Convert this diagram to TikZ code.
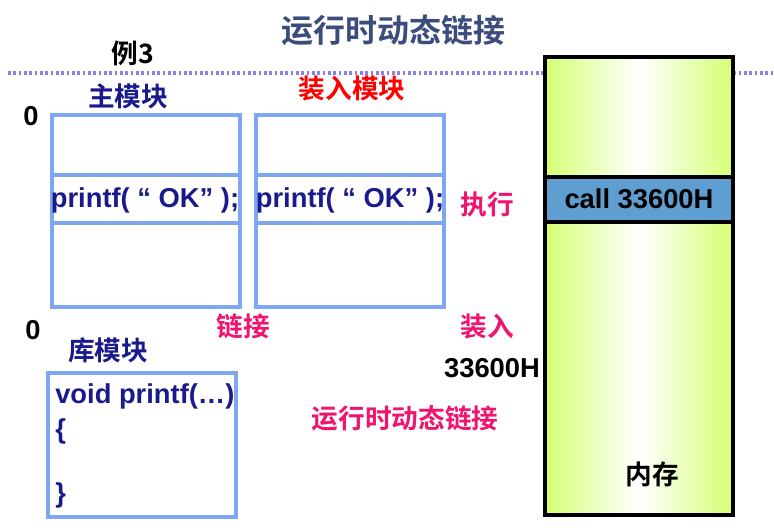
\documentclass[tikz,border=0pt]{standalone}
\usepackage{fontspec}
\setmainfont{Liberation Sans}
\newfontfamily\cjk{Noto Sans CJK SC}[BoldFont={* Bold}]
\definecolor{titleblue}{HTML}{3C4C7C}
\definecolor{modblue}{HTML}{1A1A8C}
\definecolor{boxblue}{HTML}{7FA6F0}
\definecolor{hotpink}{HTML}{F0146E}
\definecolor{memgreen}{HTML}{D4FF73}
\definecolor{callblue}{HTML}{5F9ED0}
\definecolor{dotblue}{HTML}{8C80E8}
\tikzset{
    modbox/.style={draw=boxblue, line width=2.5pt},
    lbl/.style={font=\cjk\bfseries\fontsize{20}{24}\selectfont, inner sep=0pt},
    lat/.style={font=\bfseries\fontsize{20.5}{24}\selectfont, inner sep=0pt},
    code/.style={font=\bfseries\fontsize{20.5}{24}\selectfont, text=modblue, inner sep=0pt}
}
\begin{document}
\begin{tikzpicture}[x=0.75pt,y=-0.75pt]
        \useasboundingbox (0,0) rectangle (774,531);
        \draw[dotblue, line width=3pt, dash pattern=on 2pt off 2pt] (8,73) -- (774,73);

        % memory
        \shade[left color=memgreen, right color=memgreen, middle color=white] (545,57) rectangle (733,515);
        \fill[callblue] (545,177) rectangle (733,222);
        \draw[line width=2.5pt] (545,57) rectangle (733,515);
        \draw[line width=2.5pt] (545,177) -- (733,177) (545,222) -- (733,222);
        \node[lat] (call) at (639,199) {call 33600H};
        \node[lbl] (mem) at (652,474) {内存};

        % modules
        \draw[modbox] (52,115) rectangle (240,307);
        \draw[modbox] (52,175) -- (240,175) (52,223) -- (240,223);
        \draw[modbox] (256,115) rectangle (444,307);
        \draw[modbox] (256,175) -- (444,175) (256,223) -- (444,223);
        \draw[modbox] (48,373) rectangle (236,517);

        \node[lbl, text=titleblue, font=\cjk\bfseries\fontsize{24}{28}\selectfont] (title) at (393,30) {运行时动态链接};
        \node[lbl, font=\cjk\bfseries\fontsize{20}{24}\selectfont] (ex) at (133,53) {例3};
        \node[lbl, text=modblue] (mainm) at (128,96) {主模块};
        \node[lbl, text=red] (loadm) at (352,88) {装入模块};
        \node[lbl, text=modblue] (libm) at (108,350) {库模块};
        \node[lat] (z1) at (31,116) {0};
        \node[lat] (z2) at (33,330) {0};
        \node[code] (p1) at (145,200) {printf( “ OK” );};
        \node[code] (p2) at (350,200) {printf( “ OK” );};
        \node[lbl, text=hotpink] (exec) at (487,204) {执行};
        \node[lbl, text=hotpink] (link) at (243,326) {链接};
        \node[lbl, text=hotpink] (load) at (487,326) {装入};
        \node[lat] (addr) at (492,368) {33600H};
        \node[code, anchor=west] (v1) at (55,396) {void printf(…)};
        \node[code, anchor=west] (v2) at (55,431) {\{};
        \node[code, anchor=west] (v3) at (55,495) {\}};
        \node[lbl, text=hotpink] (rt) at (405,418) {运行时动态链接};
\end{tikzpicture}
\end{document}
